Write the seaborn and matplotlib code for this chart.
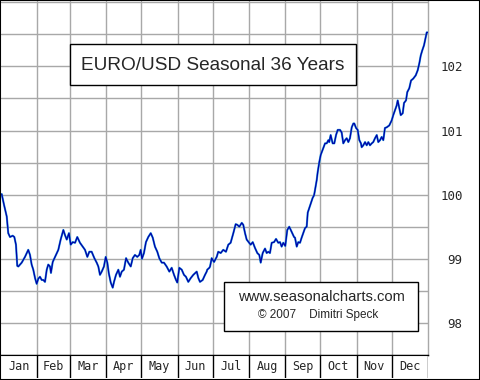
import numpy as np
import pandas as pd
import matplotlib
matplotlib.use("Agg")
import matplotlib.pyplot as plt
import seaborn as sns
from matplotlib.patches import Rectangle

# seasonal pattern, day of year vs. index value
days = [0.6, 2.6, 4.9, 6.2, 7.7, 10.0, 11.4, 12.8, 13.9, 14.8, 17.7, 20.5, 23.3, 24.8, 26.2,
        27.6, 29.1, 30.5, 31.9, 33.3, 34.8, 36.2, 37.6, 39.1, 40.4, 41.9, 42.7, 44.2, 46.2,
        49.0, 51.0, 53.3, 54.7, 56.2, 58.1, 59.6, 61.3, 63.3, 65.2, 67.5, 69.8, 71.8, 73.8,
        75.5, 77.5, 79.8, 81.8, 83.2, 84.6, 86.1, 88.0, 89.5, 90.9, 92.1, 93.8, 95.5, 96.6,
        98.3, 100.3, 101.7, 103.2, 105.1, 106.9, 108.8, 110.9, 112.6, 114.5, 116.5, 118.2,
        119.4, 120.5, 122.2, 123.9, 125.9, 128.0, 129.7, 131.6, 133.6, 135.3, 137.4, 139.3,
        141.6, 143.9, 145.9, 147.9, 149.6, 150.7, 152.4, 154.5, 156.4, 158.1, 160.1, 162.2,
        164.4, 167.3, 168.7, 170.1, 172.4, 174.4, 175.8, 176.3, 178.1, 178.7, 180.1, 182.1,
        184.4, 185.7, 187.8, 190.0, 192.3, 194.3, 196.3, 198.6, 200.6, 202.0, 203.7, 205.8,
        207.1, 208.6, 210.0, 212.2, 213.4, 215.2, 217.1, 219.1, 220.8, 222.0, 223.7, 225.7,
        227.1, 228.5, 229.9, 231.4, 233.4, 235.1, 237.0, 238.5, 239.9, 241.3, 243.0, 244.7,
        246.4, 248.5, 250.5, 251.3, 252.8, 254.1, 255.6, 257.0, 258.4, 259.9, 261.3, 262.2,
        263.5, 265.0, 266.4, 267.6, 268.4, 269.9, 270.7, 272.1, 273.3, 274.1, 275.5, 277.0,
        278.4, 279.8, 280.6, 281.8, 283.5, 284.9, 286.4, 287.8, 289.8, 291.2, 292.6, 294.1,
        295.5, 296.9, 298.3, 299.8, 301.2, 302.0, 303.5, 304.9, 306.3, 307.7, 308.3, 309.7,
        311.2, 312.6, 314.0, 315.4, 316.9, 318.2, 319.7, 321.2, 322.5, 324.0, 325.4, 326.8,
        328.2, 329.7, 331.9, 334.0, 335.3, 336.8, 338.2, 339.1, 340.5, 341.7, 343.4, 344.5,
        346.2, 347.3, 349.0, 350.5, 352.4, 354.5, 356.2, 357.6, 358.8, 360.1, 361.6, 363.0,
        363.9, 364.7]
values = [100.01, 99.84, 99.66, 99.40, 99.34, 99.36, 99.34, 99.22, 98.89, 98.88, 98.94, 99.03,
          99.14, 99.06, 98.91, 98.83, 98.70, 98.61, 98.69, 98.72, 98.67, 98.67, 98.64, 98.83,
          98.91, 98.88, 98.78, 98.95, 99.03, 99.14, 99.30, 99.45, 99.37, 99.30, 99.40, 99.22,
          99.26, 99.25, 99.34, 99.25, 99.19, 99.14, 99.03, 99.11, 99.11, 99.01, 98.94, 98.88,
          98.75, 98.80, 98.88, 99.03, 98.94, 98.78, 98.63, 98.55, 98.64, 98.75, 98.83, 98.72,
          98.80, 98.83, 99.01, 98.94, 98.88, 99.01, 99.06, 99.03, 99.06, 99.14, 99.00, 99.09,
          99.26, 99.34, 99.40, 99.33, 99.19, 99.11, 99.01, 98.94, 98.94, 98.88, 98.80, 98.86,
          98.75, 98.67, 98.63, 98.86, 98.83, 98.75, 98.72, 98.64, 98.70, 98.75, 98.80, 98.70,
          98.64, 98.67, 98.75, 98.80, 98.83, 98.86, 98.88, 99.01, 98.95, 99.03, 99.11, 99.09,
          99.14, 99.11, 99.22, 99.25, 99.40, 99.54, 99.53, 99.50, 99.56, 99.53, 99.40, 99.30,
          99.25, 99.22, 99.26, 99.17, 99.09, 99.06, 98.94, 99.09, 99.16, 99.09, 99.11, 99.09,
          99.25, 99.26, 99.31, 99.25, 99.26, 99.19, 99.25, 99.20, 99.45, 99.50, 99.42, 99.34,
          99.33, 99.19, 99.26, 99.25, 99.33, 99.40, 99.48, 99.50, 99.72, 99.79, 99.87, 99.95,
          99.99, 100.07, 100.23, 100.35, 100.51, 100.62, 100.66, 100.73, 100.80, 100.80,
          100.85, 100.82, 100.93, 100.80, 100.80, 100.93, 101.01, 101.01, 100.97, 100.80,
          100.85, 100.88, 100.82, 100.88, 101.05, 101.11, 101.11, 101.04, 101.01, 100.85,
          100.80, 100.74, 100.77, 100.82, 100.77, 100.82, 100.77, 100.80, 100.82, 100.88,
          100.93, 100.82, 100.85, 100.90, 100.85, 101.04, 101.05, 101.08, 101.16, 101.24,
          101.32, 101.39, 101.47, 101.35, 101.24, 101.27, 101.43, 101.47, 101.60, 101.66,
          101.78, 101.81, 101.86, 101.94, 102.05, 102.17, 102.25, 102.33, 102.45, 102.53,
          102.53]

months = ["Jan", "Feb", "Mar", "Apr", "May", "Jun", "Jul", "Aug", "Sep", "Oct", "Nov", "Dec"]
month_days = [31, 28, 31, 30, 31, 30, 31, 31, 30, 31, 30, 31]
yticks = [98, 99, 100, 101, 102]

title = "EURO/USD Seasonal 36 Years"
credit1 = "www.seasonalcharts.com"
credit2 = "\u00a9 2007    Dimitri Speck"

df = pd.DataFrame({"day": days, "value": values})
edges = np.concatenate([[0], np.cumsum(month_days)])

sns.set_style("white")
W, H = 480, 380
fig = plt.figure(figsize=(W / 100, H / 100), dpi=100)
fig.patch.set_facecolor("white")

# main plot area
ax = fig.add_axes([1 / W, (H - 355) / H, 427 / W, 354 / H])
grid_c = "#a8a8a8"
for e in edges[1:-1]:
    ax.axvline(e, color=grid_c, lw=1, zorder=1)
for g in np.arange(98, 103.01, 0.5):
    ax.axhline(g, color=grid_c, lw=1, zorder=1)

sns.lineplot(data=df, x="day", y="value", ax=ax, color="#2aa0e0", lw=1.5, zorder=3)
sns.lineplot(data=df, x="day", y="value", ax=ax, color="#0000a8", lw=0.9, zorder=4)

ax.set_xlim(0, 365)
ax.set_ylim(97.5, 103.02)
ax.set_xlabel("")
ax.set_ylabel("")
ax.set_xticks([])
ax.yaxis.tick_right()
ax.set_yticks(yticks)
ax.set_yticklabels([str(t) for t in yticks], family="DejaVu Sans Mono", fontsize=9)
ax.tick_params(axis="y", length=0, pad=25)
for lab in ax.get_yticklabels():
    lab.set_horizontalalignment("right")
for s in ["left", "top"]:
    ax.spines[s].set_visible(False)
ax.spines["right"].set_color(grid_c)
ax.spines["right"].set_linewidth(1)
ax.spines["bottom"].set_color("black")
ax.spines["bottom"].set_linewidth(1)

# month band
bx = fig.add_axes([1 / W, 2 / H, 427 / W, 23 / H])
bx.set_xlim(0, 365)
bx.set_ylim(0, 1)
bx.set_xticks([])
bx.set_yticks([])
for e in edges[1:]:
    bx.axvline(e, color="black", lw=1)
for i, m in enumerate(months):
    bx.text((edges[i] + edges[i + 1]) / 2, 0.5, m, ha="center", va="center",
            family="DejaVu Sans Mono", fontsize=8.5)
for s in ["left", "bottom", "right"]:
    bx.spines[s].set_visible(False)
bx.spines["top"].set_color("black")

# title box
fig.patches.append(Rectangle((70 / W, 1 - 85 / H), 286 / W, 41 / H, transform=fig.transFigure,
                             facecolor="white", edgecolor="black", lw=1, zorder=5))
fig.text(213 / W, 1 - 65 / H, title, ha="center", va="center", family="Liberation Sans",
         fontsize=13.7, zorder=6)

# credit box
fig.patches.append(Rectangle((224 / W, 1 - 331 / H), 194 / W, 49 / H, transform=fig.transFigure,
                             facecolor="white", edgecolor="black", lw=1, zorder=5))
fig.text(321 / W, 1 - 297 / H, credit1, ha="center", va="center", family="Liberation Sans",
         fontsize=10.6, zorder=6)
fig.text(318 / W, 1 - 315 / H, credit2, ha="center", va="center", family="Liberation Sans",
         fontsize=8.5, zorder=6)

# outer frame
fig.patches.append(Rectangle((0, 0), 1, 1, transform=fig.transFigure, fill=False,
                             edgecolor="black", lw=1.5, zorder=10))

fig.savefig("out.png", dpi=100)
